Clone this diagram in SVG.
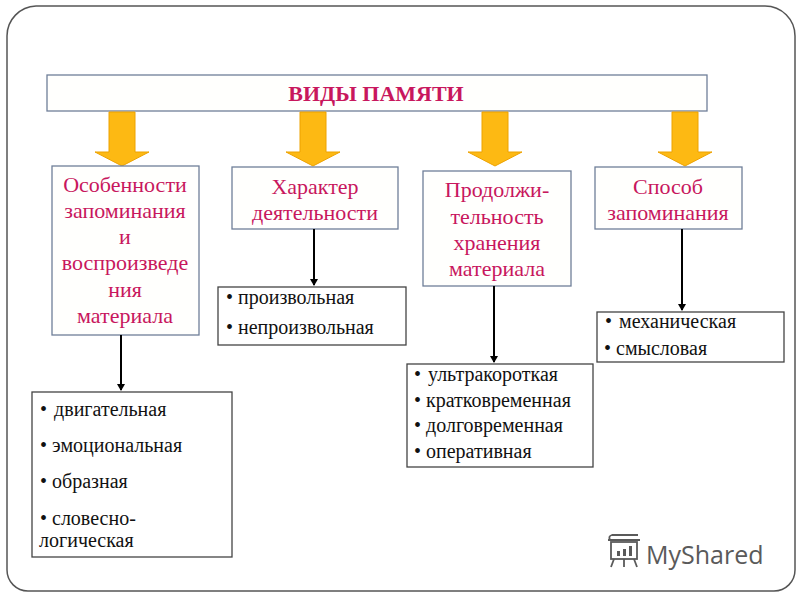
<svg xmlns="http://www.w3.org/2000/svg" width="800" height="600" viewBox="0 0 800 600">
<defs>
<style>
.frame{fill:#fff;stroke:#555;stroke-width:1.5}
.box{fill:#fffffd;stroke:#6f7f99;stroke-width:1.3}
.list{fill:#fff;stroke:#444;stroke-width:1.3}
.big{fill:#fdb913;stroke:#eda200;stroke-width:1}
.hd{font-family:"Liberation Serif","Times New Roman",serif;font-size:22px;fill:#c8175d;text-anchor:middle}
.ttl{font-family:"Liberation Serif","Times New Roman",serif;font-size:22px;font-weight:bold;fill:#c8175d;text-anchor:middle}
.it{font-family:"Liberation Serif","Times New Roman",serif;font-size:20px;fill:#111}
.conn{stroke:#000;stroke-width:2;fill:none}
.wm{font-family:"Open Sans","Noto Sans",sans-serif;font-size:25px;fill:#5a5a5a}
</style>
<marker id="ah" markerWidth="8" markerHeight="8" refX="6" refY="4" orient="auto" markerUnits="userSpaceOnUse">
<path d="M0,0 L7,4 L0,8 Z" fill="#000"/>
</marker>
<polygon id="bigArrow" points="-13,0 13,0 13,40 27,40 0,54 -27,40 -13,40"/>
</defs>
<path class="frame" d="M36,6 H765 A30,30 0 0 1 795,36 V570 A21,21 0 0 1 774,591 H28 A21,21 0 0 1 7,570 V36 A30,30 0 0 1 36,6 Z"/>

<g id="title">
<rect class="box" x="47" y="75" width="660" height="36"/>
<text class="ttl" x="376" y="101">ВИДЫ ПАМЯТИ</text>
</g>

<g id="bigArrows">
<use href="#bigArrow" class="big" x="122" y="112"/>
<use href="#bigArrow" class="big" x="313" y="112"/>
<use href="#bigArrow" class="big" x="495" y="112"/>
<use href="#bigArrow" class="big" x="685" y="112"/>
</g>

<g id="n1">
<rect class="box" x="52" y="166" width="147" height="169"/>
<text class="hd" x="125" y="192">Особенности</text>
<text class="hd" x="125" y="218">запоминания</text>
<text class="hd" x="125" y="244">и</text>
<text class="hd" x="125" y="270">воспроизведе</text>
<text class="hd" x="125" y="297">ния</text>
<text class="hd" x="125" y="323">материала</text>
</g>
<g id="n2">
<rect class="box" x="232" y="167" width="166" height="62"/>
<text class="hd" x="315" y="194">Характер</text>
<text class="hd" x="315" y="220">деятельности</text>
</g>
<g id="n3">
<rect class="box" x="423" y="171" width="148" height="115"/>
<text class="hd" x="497" y="197">Продолжи-</text>
<text class="hd" x="497" y="224">тельность</text>
<text class="hd" x="497" y="250">хранения</text>
<text class="hd" x="497" y="276">материала</text>
</g>
<g id="n4">
<rect class="box" x="595" y="167" width="147" height="62"/>
<text class="hd" x="668" y="194">Способ</text>
<text class="hd" x="668" y="220">запоминания</text>
</g>

<g id="l1">
<rect class="list" x="32" y="392" width="200" height="165"/>
<text class="it" x="40" y="416">• <tspan dx="2">двигательная</tspan></text>
<text class="it" x="40" y="452">• эмоциональная</text>
<text class="it" x="40" y="488">• образная</text>
<text class="it" x="40" y="525">• словесно-</text>
<text class="it" x="39" y="547">логическая</text>
</g>
<g id="l2">
<rect class="list" x="218" y="287" width="188" height="58"/>
<text class="it" x="226" y="304">• произвольная</text>
<text class="it" x="226" y="334">• непроизвольная</text>
</g>
<g id="l3">
<rect class="list" x="407" y="364" width="186" height="103"/>
<text class="it" x="414" y="381">• <tspan dx="2">ультракороткая</tspan></text>
<text class="it" x="414" y="407">• кратковременная</text>
<text class="it" x="414" y="432">• долговременная</text>
<text class="it" x="414" y="458">• оперативная</text>
</g>
<g id="l4">
<rect class="list" x="597" y="312" width="187" height="50"/>
<text class="it" x="605" y="328">• <tspan dx="2">механическая</tspan></text>
<text class="it" x="604" y="355">• смысловая</text>
</g>

<g id="connectors">
<line class="conn" x1="121" y1="335" x2="121" y2="390" marker-end="url(#ah)"/>
<line class="conn" x1="314" y1="229" x2="314" y2="285" marker-end="url(#ah)"/>
<line class="conn" x1="494" y1="286" x2="494" y2="362" marker-end="url(#ah)"/>
<line class="conn" x1="682" y1="229" x2="682" y2="310" marker-end="url(#ah)"/>
</g>

<g id="watermark" fill="none" stroke="#5a5a5a" stroke-width="1.8">
<rect x="611" y="542" width="26" height="17"/>
<path d="M608,540 h32 M614,559 l-3,8 M624,559 v8 M634,559 l3,8 M610,540 q-2,-4 2,-5 h26"/>
<rect x="617" y="551" width="3" height="5" fill="#5a5a5a" stroke="none"/>
<rect x="623" y="549" width="3" height="7" fill="#5a5a5a" stroke="none"/>
<rect x="629" y="546" width="3" height="10" fill="#5a5a5a" stroke="none"/>
<text class="wm" x="646" y="564" stroke="none">MyShared</text>
</g>
</svg>
